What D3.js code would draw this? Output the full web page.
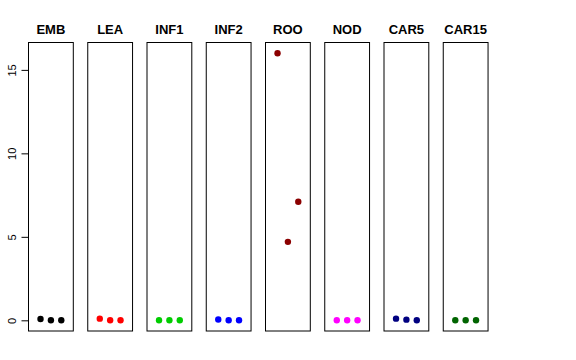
<!DOCTYPE html>
<html><head><meta charset="utf-8">
<script src="https://cdn.jsdelivr.net/npm/d3@7"></script>
<style>body{margin:0;background:#fff}svg{display:block}</style>
</head><body>
<script>
const categories = ["EMB","LEA","INF1","INF2","ROO","NOD","CAR5","CAR15"];
const colors = ["#000000","#FF0000","#00CD00","#0000FF","#8B0000","#FF00FF","#000080","#006400"];
const values = [
  [0.08, 0, 0],
  [0.1, 0, 0],
  [0, 0, 0],
  [0.05, 0, 0],
  [16, 4.7, 7.1],
  [0, 0, 0],
  [0.1, 0.04, 0],
  [0, 0, 0]
];
const yTicks = [0, 5, 10, 15];

const W = 576, H = 360;
const svg = d3.select("body").append("svg").attr("width", W).attr("height", H);

const pTop = 42.5, pBottom = 331, firstLeft = 28.5, panelW = 44.8, step = 59.25;
const y = d3.scaleLinear().domain([-0.64, 16.64]).range([pBottom, pTop]);
const x = d3.scaleLinear().domain([-0.16, 4.16]).range([0, panelW]);

categories.forEach((c, i) => {
  const g = svg.append("g").attr("transform", `translate(${firstLeft + i*step},0)`);
  g.append("rect").attr("x", 0).attr("y", pTop).attr("width", panelW).attr("height", pBottom - pTop)
    .attr("fill", "none").attr("stroke", "#000").attr("stroke-width", 1);
  g.append("text").attr("x", panelW/2).attr("y", 34).attr("text-anchor", "middle")
    .attr("font-family", "Liberation Sans, Arial, sans-serif").attr("font-weight", "bold")
    .attr("font-size", 13).text(c);
  g.selectAll("circle").data(values[i]).enter().append("circle")
    .attr("cx", (d, j) => x(j + 1)).attr("cy", d => y(d)).attr("r", 3.2)
    .attr("fill", colors[i]);
});

const axis = d3.axisLeft(y).tickValues(yTicks).tickSize(7).tickPadding(5).tickFormat(d3.format("d"));
const ag = svg.append("g").attr("transform", `translate(${firstLeft},0)`).call(axis);
ag.select(".domain").attr("d", `M0,${y(0)}V${y(15)}`).attr("stroke", "#000");
ag.selectAll(".tick line").attr("stroke", "#000");
ag.selectAll(".tick text")
  .attr("font-family", "Liberation Sans, Arial, sans-serif").attr("font-size", 11).attr("fill", "#000")
  .attr("transform", "rotate(-90,-16,0)")
  .attr("x", -16).attr("dy", "0.32em").attr("text-anchor", "middle")
  .attr("y", 0);
</script>
</body></html>
